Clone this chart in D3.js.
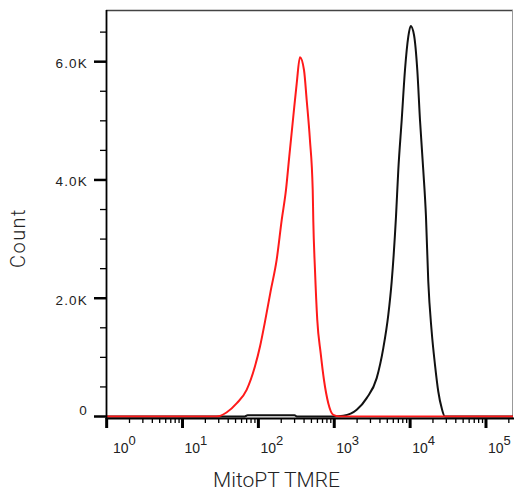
<!DOCTYPE html>
<html>
<head>
<meta charset="utf-8">
<script src="https://cdn.jsdelivr.net/npm/d3@7"></script>
<style>
  body { margin: 0; background: #fff; }
</style>
</head>
<body>
<script>
// Histogram data: fluorescence value (TMRE) and event count
let redValues = [0.98, 28, 38, 52, 70, 90, 105, 122, 145, 174, 203, 231, 255, 288, 320, 353,
  399, 433, 478, 520, 529, 557, 597, 662, 732, 834, 971, 1189, 227000];
let redCounts = [0, 0, 68, 226, 451, 845, 1183, 1600, 2120, 2648, 3324, 3831, 4390, 5065, 5634, 6074,
  5859, 5352, 4676, 3831, 3324, 2479, 1634, 1071, 617, 226, 29, 0, 0];

let blackValues = [0.98, 66, 72, 300, 320, 1000, 1315, 1977, 2674, 3625, 4430, 5155, 5714, 6513, 6985,
  7744, 8554, 9461, 10170, 11250, 12430, 13490, 14900, 16180, 17350, 19230, 21270, 23500, 26060, 28790, 227000];
let blackCounts = [0, 0, 22, 22, 0, 0, 12, 113, 311, 649, 1156, 1719, 2282, 3380, 4169,
  5014, 5859, 6422, 6603, 6451, 5859, 5014, 4169, 3380, 2282, 1437, 874, 423, 142, 0, 0];

let yMajor = [0, 2000, 4000, 6000];
let yMajorLabels = ['0', '2.0K', '4.0K', '6.0K'];
let yMinor = [500, 1000, 1500, 2500, 3000, 3500, 4500, 5000, 5500, 6500];
let xExponents = [0, 1, 2, 3, 4, 5];

let width = 514, height = 492;
let margin = { top: 10, right: 1, bottom: 75, left: 106 };

let svg = d3.select('body')
  .append('svg')
  .attr('width', width)
  .attr('height', height);

// scales
let xScale = d3.scaleLog()
  .domain([0.98, 227000])
  .range([margin.left, width - margin.right]);

let yScale = d3.scaleLinear()
  .domain([0, 6874])
  .range([416.5, margin.top]);

let plotBottom = 418;

// frame (top and right are light)
svg.append('line')
  .attr('x1', margin.left).attr('x2', width - margin.right)
  .attr('y1', margin.top + 0.5).attr('y2', margin.top + 0.5)
  .style('stroke', '#444').style('stroke-width', 1.5);
svg.append('line')
  .attr('x1', width - margin.right - 0.5).attr('x2', width - margin.right - 0.5)
  .attr('y1', margin.top).attr('y2', plotBottom)
  .style('stroke', '#999').style('stroke-width', 1);

// histograms
let line = d3.line()
  .x(d => xScale(d[0]))
  .y(d => yScale(d[1]))
  .curve(d3.curveMonotoneX);

svg.append('path')
  .datum(d3.zip(blackValues, blackCounts))
  .attr('d', line)
  .style('fill', 'none')
  .style('stroke', '#111')
  .style('stroke-width', 2);

svg.append('path')
  .datum(d3.zip(redValues, redCounts))
  .attr('d', line)
  .style('fill', 'none')
  .style('stroke', '#ff1a1a')
  .style('stroke-width', 2);

// y axis
svg.append('line')
  .attr('x1', margin.left + 0.5).attr('x2', margin.left + 0.5)
  .attr('y1', margin.top).attr('y2', plotBottom + 1)
  .style('stroke', '#000').style('stroke-width', 1.8);

svg.selectAll('.ymajor')
  .data(yMajor)
  .enter()
  .append('line')
  .attr('x1', 94).attr('x2', margin.left)
  .attr('y1', d => yScale(d)).attr('y2', d => yScale(d))
  .style('stroke', '#000').style('stroke-width', 2.5);

svg.selectAll('.yminor')
  .data(yMinor)
  .enter()
  .append('line')
  .attr('x1', 100).attr('x2', margin.left)
  .attr('y1', d => yScale(d)).attr('y2', d => yScale(d))
  .style('stroke', '#000').style('stroke-width', 1.3);

svg.selectAll('.ylabel')
  .data(yMajor)
  .enter()
  .append('text')
  .attr('x', 88)
  .attr('y', d => Math.min(yScale(d) + 6.5, 415))
  .attr('text-anchor', 'end')
  .style('font-family', '"Liberation Sans", Arial, sans-serif')
  .style('font-size', '13.5px')
  .style('letter-spacing', '1.2px')
  .style('fill', '#222')
  .text((d, i) => yMajorLabels[i]);

// x axis
svg.append('line')
  .attr('x1', margin.left).attr('x2', width)
  .attr('y1', plotBottom + 0.5).attr('y2', plotBottom + 0.5)
  .style('stroke', '#000').style('stroke-width', 2);

let xMinor = [];
xExponents.forEach(e => {
  for (let m = 2; m <= 9; m++) {
    let v = m * Math.pow(10, e);
    if (v <= xScale.domain()[1]) xMinor.push(v);
  }
});

svg.selectAll('.xminor')
  .data(xMinor)
  .enter()
  .append('line')
  .attr('x1', d => xScale(d)).attr('x2', d => xScale(d))
  .attr('y1', plotBottom).attr('y2', plotBottom + 5)
  .style('stroke', '#000').style('stroke-width', 1.3);

svg.selectAll('.xmajor')
  .data(xExponents)
  .enter()
  .append('line')
  .attr('x1', d => xScale(Math.pow(10, d))).attr('x2', d => xScale(Math.pow(10, d)))
  .attr('y1', plotBottom).attr('y2', plotBottom + 10)
  .style('stroke', '#000').style('stroke-width', 3);

let xLabel = svg.selectAll('.xlabel')
  .data(xExponents)
  .enter()
  .append('text')
  .attr('x', d => Math.max(xScale(Math.pow(10, d)) + 2, 113))
  .attr('y', 452.5)
  .style('font-family', '"Liberation Sans", Arial, sans-serif')
  .style('font-size', '14px')
  .style('fill', '#222');
xLabel.append('tspan').text('10');
xLabel.append('tspan')
  .attr('dy', -8)
  .style('font-size', '13px')
  .text(d => d);

// axis titles
svg.append('text')
  .attr('x', 276.5)
  .attr('y', 487)
  .attr('text-anchor', 'middle')
  .style('font-family', 'Roboto, sans-serif')
  .style('font-weight', 300)
  .style('font-size', '21px')
  .style('fill', '#222')
  .text('MitoPT TMRE');

svg.append('text')
  .attr('transform', 'rotate(-90)')
  .attr('x', -238)
  .attr('y', 25)
  .attr('text-anchor', 'middle')
  .style('font-family', 'Roboto, sans-serif')
  .style('font-weight', 300)
  .style('font-size', '20px')
  .style('letter-spacing', '1.5px')
  .style('fill', '#222')
  .text('Count');
</script>
</body>
</html>
